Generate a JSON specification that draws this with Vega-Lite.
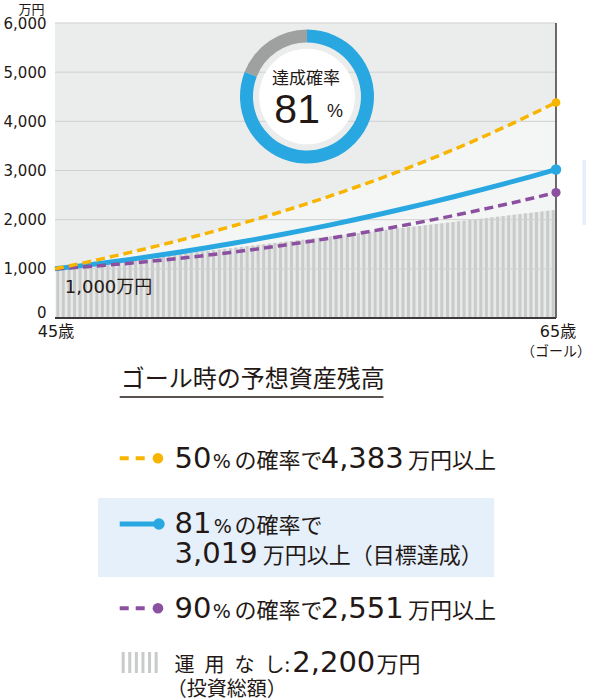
{
  "$schema": "https://vega.github.io/schema/vega-lite/v6.json",
  "width": 511,
  "height": 677,
  "autosize": {"type": "none"},
  "padding": {"left": 50, "top": 23, "right": 29, "bottom": 0},
  "background": "white",
  "config": {
    "view": {"stroke": null, "fill": null},
    "font": "DejaVu Sans, Noto Sans CJK JP",
    "axisX": {"disable": true},
    "text": {"color": "#231815", "font": "DejaVu Sans, Noto Sans CJK JP"}
  },
  "datasets": {
    "paths": [
      {"age": 45, "s": "50", "v": 1000}, {"age": 46, "s": "50", "v": 1106}, {"age": 47, "s": "50", "v": 1218}, {"age": 48, "s": "50", "v": 1334}, {"age": 49, "s": "50", "v": 1456}, {"age": 50, "s": "50", "v": 1584}, {"age": 51, "s": "50", "v": 1717}, {"age": 52, "s": "50", "v": 1857}, {"age": 53, "s": "50", "v": 2003}, {"age": 54, "s": "50", "v": 2156}, {"age": 55, "s": "50", "v": 2316}, {"age": 56, "s": "50", "v": 2484}, {"age": 57, "s": "50", "v": 2659}, {"age": 58, "s": "50", "v": 2842}, {"age": 59, "s": "50", "v": 3034}, {"age": 60, "s": "50", "v": 3235}, {"age": 61, "s": "50", "v": 3445}, {"age": 62, "s": "50", "v": 3665}, {"age": 63, "s": "50", "v": 3895}, {"age": 64, "s": "50", "v": 4136}, {"age": 65, "s": "50", "v": 4383},
      {"age": 45, "s": "81", "v": 1000}, {"age": 46, "s": "81", "v": 1060}, {"age": 47, "s": "81", "v": 1124}, {"age": 48, "s": "81", "v": 1192}, {"age": 49, "s": "81", "v": 1265}, {"age": 50, "s": "81", "v": 1342}, {"age": 51, "s": "81", "v": 1423}, {"age": 52, "s": "81", "v": 1509}, {"age": 53, "s": "81", "v": 1599}, {"age": 54, "s": "81", "v": 1694}, {"age": 55, "s": "81", "v": 1792}, {"age": 56, "s": "81", "v": 1895}, {"age": 57, "s": "81", "v": 2003}, {"age": 58, "s": "81", "v": 2115}, {"age": 59, "s": "81", "v": 2231}, {"age": 60, "s": "81", "v": 2351}, {"age": 61, "s": "81", "v": 2476}, {"age": 62, "s": "81", "v": 2606}, {"age": 63, "s": "81", "v": 2739}, {"age": 64, "s": "81", "v": 2877}, {"age": 65, "s": "81", "v": 3019},
      {"age": 45, "s": "90", "v": 1000}, {"age": 46, "s": "90", "v": 1034}, {"age": 47, "s": "90", "v": 1072}, {"age": 48, "s": "90", "v": 1115}, {"age": 49, "s": "90", "v": 1163}, {"age": 50, "s": "90", "v": 1215}, {"age": 51, "s": "90", "v": 1272}, {"age": 52, "s": "90", "v": 1333}, {"age": 53, "s": "90", "v": 1399}, {"age": 54, "s": "90", "v": 1470}, {"age": 55, "s": "90", "v": 1545}, {"age": 56, "s": "90", "v": 1625}, {"age": 57, "s": "90", "v": 1709}, {"age": 58, "s": "90", "v": 1799}, {"age": 59, "s": "90", "v": 1892}, {"age": 60, "s": "90", "v": 1990}, {"age": 61, "s": "90", "v": 2093}, {"age": 62, "s": "90", "v": 2201}, {"age": 63, "s": "90", "v": 2313}, {"age": 64, "s": "90", "v": 2430}, {"age": 65, "s": "90", "v": 2551}
    ],
    "invest": [
      {"a": 45.11, "v": 1007}, {"a": 45.33, "v": 1020}, {"a": 45.56, "v": 1033}, {"a": 45.78, "v": 1047}, {"a": 46.00, "v": 1060}, {"a": 46.22, "v": 1073}, {"a": 46.44, "v": 1087}, {"a": 46.67, "v": 1100}, {"a": 46.89, "v": 1113}, {"a": 47.11, "v": 1127},
      {"a": 47.33, "v": 1140}, {"a": 47.56, "v": 1153}, {"a": 47.78, "v": 1167}, {"a": 48.00, "v": 1180}, {"a": 48.22, "v": 1193}, {"a": 48.44, "v": 1207}, {"a": 48.67, "v": 1220}, {"a": 48.89, "v": 1233}, {"a": 49.11, "v": 1247}, {"a": 49.33, "v": 1260},
      {"a": 49.56, "v": 1273}, {"a": 49.78, "v": 1287}, {"a": 50.00, "v": 1300}, {"a": 50.22, "v": 1313}, {"a": 50.44, "v": 1327}, {"a": 50.67, "v": 1340}, {"a": 50.89, "v": 1353}, {"a": 51.11, "v": 1367}, {"a": 51.33, "v": 1380}, {"a": 51.56, "v": 1393},
      {"a": 51.78, "v": 1407}, {"a": 52.00, "v": 1420}, {"a": 52.22, "v": 1433}, {"a": 52.44, "v": 1447}, {"a": 52.67, "v": 1460}, {"a": 52.89, "v": 1473}, {"a": 53.11, "v": 1487}, {"a": 53.33, "v": 1500}, {"a": 53.56, "v": 1513}, {"a": 53.78, "v": 1527},
      {"a": 54.00, "v": 1540}, {"a": 54.22, "v": 1553}, {"a": 54.44, "v": 1567}, {"a": 54.67, "v": 1580}, {"a": 54.89, "v": 1593}, {"a": 55.11, "v": 1607}, {"a": 55.33, "v": 1620}, {"a": 55.56, "v": 1633}, {"a": 55.78, "v": 1647}, {"a": 56.00, "v": 1660},
      {"a": 56.22, "v": 1673}, {"a": 56.44, "v": 1687}, {"a": 56.67, "v": 1700}, {"a": 56.89, "v": 1713}, {"a": 57.11, "v": 1727}, {"a": 57.33, "v": 1740}, {"a": 57.56, "v": 1753}, {"a": 57.78, "v": 1767}, {"a": 58.00, "v": 1780}, {"a": 58.22, "v": 1793},
      {"a": 58.44, "v": 1807}, {"a": 58.67, "v": 1820}, {"a": 58.89, "v": 1833}, {"a": 59.11, "v": 1847}, {"a": 59.33, "v": 1860}, {"a": 59.56, "v": 1873}, {"a": 59.78, "v": 1887}, {"a": 60.00, "v": 1900}, {"a": 60.22, "v": 1913}, {"a": 60.44, "v": 1927},
      {"a": 60.67, "v": 1940}, {"a": 60.89, "v": 1953}, {"a": 61.11, "v": 1967}, {"a": 61.33, "v": 1980}, {"a": 61.56, "v": 1993}, {"a": 61.78, "v": 2007}, {"a": 62.00, "v": 2020}, {"a": 62.22, "v": 2033}, {"a": 62.44, "v": 2047}, {"a": 62.67, "v": 2060},
      {"a": 62.89, "v": 2073}, {"a": 63.11, "v": 2087}, {"a": 63.33, "v": 2100}, {"a": 63.56, "v": 2113}, {"a": 63.78, "v": 2127}, {"a": 64.00, "v": 2140}, {"a": 64.22, "v": 2153}, {"a": 64.44, "v": 2167}, {"a": 64.67, "v": 2180}, {"a": 64.89, "v": 2193}
    ],
    "grid": [{"v": 1000}, {"v": 2000}, {"v": 3000}, {"v": 4000}, {"v": 5000}, {"v": 6000}],
    "donut": [{"k": "達成", "p": 81, "o": 1}, {"k": "未達", "p": 19, "o": 2}],
    "summary": [
      {"key": "p50", "prob": 50, "amount": 4383},
      {"key": "p81", "prob": 81, "amount": 3019},
      {"key": "p90", "prob": 90, "amount": 2551},
      {"key": "none", "amount": 2200}
    ]
  },
  "layer": [
    {
      "data": {"values": [{}]},
      "mark": {"type": "rect", "color": "#ebeded"},
      "encoding": {
        "x": {"datum": 45, "type": "quantitative", "scale": {"domain": [45, 65], "nice": false, "zero": false}},
        "x2": {"datum": 65},
        "y": {"datum": 0, "type": "quantitative", "scale": {"domain": [-7769.5, 6000], "nice": false, "zero": false},
          "axis": {"values": [0, 1000, 2000, 3000, 4000, 5000, 6000], "labelExpr": "format(datum.value, ',')", "grid": false, "domain": false, "ticks": false,
            "labelPadding": 4, "labelFont": "DejaVu Sans", "labelFontSize": 15, "labelColor": "#231815",
            "labelOffset": {"condition": {"test": "datum.value === 0", "value": -5}, "value": 0},
            "title": "万円", "titleAngle": 0, "titleAlign": "right", "titleBaseline": "alphabetic", "titleX": -6, "titleY": -10,
            "titleFont": "Noto Sans CJK JP", "titleFontSize": 13, "titleFontWeight": "normal", "titleColor": "#231815"}},
        "y2": {"datum": 6000}
      }
    },
    {
      "data": {"name": "paths"},
      "transform": [{"filter": "datum.s === '50'"}],
      "mark": {"type": "area", "color": "#f4f6f6", "interpolate": "monotone"},
      "encoding": {"x": {"field": "age", "type": "quantitative"}, "y": {"field": "v", "type": "quantitative"}, "y2": {"datum": 0}}
    },
    {
      "data": {"name": "invest"},
      "mark": {"type": "area", "color": "#e8e9e9"},
      "encoding": {"x": {"field": "a", "type": "quantitative"}, "y": {"field": "v", "type": "quantitative"}, "y2": {"datum": 0}}
    },
    {
      "data": {"name": "invest"},
      "mark": {"type": "bar", "width": 3, "color": "#c9caca", "orient": "vertical"},
      "encoding": {"x": {"field": "a", "type": "quantitative"}, "y": {"field": "v", "type": "quantitative"}, "y2": {"datum": 0}}
    },
    {
      "data": {"name": "grid"},
      "mark": {"type": "rule", "color": "#cfd1d1", "strokeWidth": 1},
      "encoding": {"x": {"datum": 45}, "x2": {"datum": 65}, "y": {"field": "v", "type": "quantitative"}}
    },
    {
      "data": {"values": [{}]},
      "mark": {"type": "text", "text": "1,000万円", "align": "left", "baseline": "alphabetic", "fontSize": 18},
      "encoding": {"x": {"datum": 45.391}, "y": {"datum": 508.5}}
    },
    {
      "data": {"name": "paths"},
      "transform": [{"filter": "datum.s === '81'"}],
      "mark": {"type": "line", "color": "#29a7e0", "strokeWidth": 5, "interpolate": "monotone"},
      "encoding": {"x": {"field": "age", "type": "quantitative"}, "y": {"field": "v", "type": "quantitative"}}
    },
    {
      "data": {"name": "paths"},
      "transform": [{"filter": "datum.s === '90'"}],
      "mark": {"type": "line", "color": "#8b509f", "strokeWidth": 3.5, "strokeDash": [9, 5], "interpolate": "monotone"},
      "encoding": {"x": {"field": "age", "type": "quantitative"}, "y": {"field": "v", "type": "quantitative"}}
    },
    {
      "data": {"name": "paths"},
      "transform": [{"filter": "datum.s === '50'"}],
      "mark": {"type": "line", "color": "#f7b500", "strokeWidth": 3.5, "strokeDash": [9, 5], "interpolate": "monotone"},
      "encoding": {"x": {"field": "age", "type": "quantitative"}, "y": {"field": "v", "type": "quantitative"}}
    },
    {
      "data": {"values": [{}]},
      "mark": {"type": "rule", "color": "#3e3a39", "strokeWidth": 1.5},
      "encoding": {"x": {"datum": 65}, "y": {"datum": 0}, "y2": {"datum": 6000}}
    },
    {
      "data": {"values": [{}]},
      "mark": {"type": "rule", "color": "#3e3a39", "strokeWidth": 2},
      "encoding": {"x": {"datum": 45}, "x2": {"datum": 65}, "y": {"datum": 0}}
    },
    {
      "data": {"values": [{}]},
      "mark": {"type": "rect", "color": "#e6f0fa"},
      "encoding": {"x": {"datum": 66.057}, "x2": {"datum": 66.2}, "y": {"datum": 3213.6}, "y2": {"datum": 1891.5}}
    },
    {
      "data": {"name": "paths"},
      "transform": [{"filter": "datum.age === 65 && datum.s === '50'"}],
      "mark": {"type": "circle", "color": "#f7b500", "opacity": 1, "size": 75},
      "encoding": {"x": {"field": "age", "type": "quantitative"}, "y": {"field": "v", "type": "quantitative"}}
    },
    {
      "data": {"name": "paths"},
      "transform": [{"filter": "datum.age === 65 && datum.s === '81'"}],
      "mark": {"type": "circle", "color": "#29a7e0", "opacity": 1, "size": 110},
      "encoding": {"x": {"field": "age", "type": "quantitative"}, "y": {"field": "v", "type": "quantitative"}}
    },
    {
      "data": {"name": "paths"},
      "transform": [{"filter": "datum.age === 65 && datum.s === '90'"}],
      "mark": {"type": "circle", "color": "#8b509f", "opacity": 1, "size": 85},
      "encoding": {"x": {"field": "age", "type": "quantitative"}, "y": {"field": "v", "type": "quantitative"}}
    },
    {
      "data": {"values": [{}]},
      "mark": {"type": "circle", "color": "white", "opacity": 1, "size": 9161},
      "encoding": {"x": {"datum": 55.059}, "y": {"datum": 4505}}
    },
    {
      "data": {"name": "donut"},
      "mark": {"type": "arc", "innerRadius": 54, "outerRadius": 67},
      "encoding": {
        "theta": {"field": "p", "type": "quantitative", "stack": true},
        "order": {"field": "o", "type": "quantitative"},
        "color": {"field": "k", "type": "nominal", "scale": {"domain": ["達成", "未達"], "range": ["#29a7e0", "#9fa0a0"]}, "legend": null},
        "x": {"datum": 55.059},
        "y": {"datum": 4505}
      }
    },
    {
      "data": {"values": [{}]},
      "mark": {"type": "text", "text": "達成確率", "align": "center", "baseline": "middle", "fontSize": 17, "dx": -1, "dy": -18, "font": "Noto Sans CJK JP"},
      "encoding": {"x": {"datum": 55.059}, "y": {"datum": 4505}}
    },
    {
      "data": {"name": "donut"},
      "transform": [{"filter": "datum.o === 1"}],
      "mark": {"type": "text", "align": "right", "baseline": "alphabetic", "fontSize": 41, "dx": 13, "dy": 26.5, "font": "Liberation Sans"},
      "encoding": {"x": {"datum": 55.059}, "y": {"datum": 4505}, "text": {"field": "p", "type": "quantitative"}}
    },
    {
      "data": {"values": [{}]},
      "mark": {"type": "text", "text": "%", "align": "left", "baseline": "alphabetic", "fontSize": 18, "dx": 20, "dy": 20.5, "font": "Liberation Sans"},
      "encoding": {"x": {"datum": 55.059}, "y": {"datum": 4505}}
    },
    {
      "data": {"values": [{}]},
      "mark": {"type": "text", "text": "45歳", "align": "center", "baseline": "alphabetic", "fontSize": 16, "dx": 1, "dy": 19},
      "encoding": {"x": {"datum": 45}, "y": {"datum": 0}}
    },
    {
      "data": {"values": [{}]},
      "mark": {"type": "text", "text": "65歳", "align": "center", "baseline": "alphabetic", "fontSize": 16, "dx": 2, "dy": 19},
      "encoding": {"x": {"datum": 65}, "y": {"datum": 0}}
    },
    {
      "data": {"values": [{}]},
      "mark": {"type": "text", "text": "（ゴール）", "align": "center", "baseline": "alphabetic", "fontSize": 14, "dy": 38, "font": "Noto Sans CJK JP"},
      "encoding": {"x": {"datum": 65}, "y": {"datum": 0}}
    },
    {
      "data": {"values": [{}]},
      "mark": {"type": "text", "text": "ゴール時の予想資産残高", "align": "left", "baseline": "alphabetic", "fontSize": 24, "font": "Noto Sans CJK JP"},
      "encoding": {"x": {"datum": 47.622}, "y": {"datum": -1403.4}}
    },
    {
      "data": {"values": [{}]},
      "mark": {"type": "rule", "color": "#231815", "strokeWidth": 1.5},
      "encoding": {"x": {"datum": 47.583}, "x2": {"datum": 58.112}, "y": {"datum": -1606.8}}
    },
    {
      "data": {"values": [{}]},
      "mark": {"type": "rect", "color": "#e6f0fa"},
      "encoding": {"x": {"datum": 46.722}, "x2": {"datum": 62.534}, "y": {"datum": -3661}, "y2": {"datum": -5267.8}}
    },
    {
      "data": {"values": [{}]},
      "mark": {"type": "rule", "color": "#f7b500", "strokeWidth": 4, "strokeDash": [9, 7]},
      "encoding": {"x": {"datum": 47.583}, "x2": {"datum": 48.836}, "y": {"datum": -2853.6}}
    },
    {
      "data": {"values": [{}]},
      "mark": {"type": "circle", "color": "#f7b500", "opacity": 1, "size": 113},
      "encoding": {"x": {"datum": 49.11}, "y": {"datum": -2853.6}}
    },
    {
      "data": {"values": [{}]},
      "mark": {"type": "rule", "color": "#29a7e0", "strokeWidth": 5},
      "encoding": {"x": {"datum": 47.583}, "x2": {"datum": 49.11}, "y": {"datum": -4189.8}}
    },
    {
      "data": {"values": [{}]},
      "mark": {"type": "circle", "color": "#29a7e0", "opacity": 1, "size": 133},
      "encoding": {"x": {"datum": 49.149}, "y": {"datum": -4189.8}}
    },
    {
      "data": {"values": [{}]},
      "mark": {"type": "rule", "color": "#8b509f", "strokeWidth": 4, "strokeDash": [9, 7]},
      "encoding": {"x": {"datum": 47.583}, "x2": {"datum": 48.836}, "y": {"datum": -5904.5}}
    },
    {
      "data": {"values": [{}]},
      "mark": {"type": "circle", "color": "#8b509f", "opacity": 1, "size": 113},
      "encoding": {"x": {"datum": 49.11}, "y": {"datum": -5904.5}}
    },
    {
      "data": {"values": [{}]},
      "mark": {"type": "rule", "color": "#c9caca", "strokeWidth": 21, "strokeDash": [3, 3.6]},
      "encoding": {"x": {"datum": 47.661}, "x2": {"datum": 49.188}, "y": {"datum": -7006.8}}
    },
    {
      "data": {"name": "summary"},
      "transform": [{"filter": "datum.key === 'p50'"}],
      "mark": {"type": "text", "align": "left", "baseline": "alphabetic", "fontSize": 29},
      "encoding": {"x": {"datum": 49.775}, "y": {"datum": -3050.9}, "text": {"field": "prob", "type": "quantitative"}}
    },
    {
      "data": {"values": [{}]},
      "mark": {"type": "text", "text": "%", "align": "left", "baseline": "alphabetic", "fontSize": 19},
      "encoding": {"x": {"datum": 51.301}, "y": {"datum": -3050.9}}
    },
    {
      "data": {"values": [{}]},
      "mark": {"type": "text", "text": "の確率で", "align": "left", "baseline": "alphabetic", "fontSize": 22, "font": "Noto Sans CJK JP"},
      "encoding": {"x": {"datum": 52.162}, "y": {"datum": -3050.9}}
    },
    {
      "data": {"name": "summary"},
      "transform": [{"filter": "datum.key === 'p50'"}],
      "mark": {"type": "text", "align": "left", "baseline": "alphabetic", "fontSize": 29},
      "encoding": {"x": {"datum": 55.607}, "y": {"datum": -3050.9}, "text": {"field": "amount", "type": "quantitative", "format": ","}}
    },
    {
      "data": {"values": [{}]},
      "mark": {"type": "text", "text": "万円以上", "align": "left", "baseline": "alphabetic", "fontSize": 22, "font": "Noto Sans CJK JP"},
      "encoding": {"x": {"datum": 59.09}, "y": {"datum": -3050.9}}
    },
    {
      "data": {"name": "summary"},
      "transform": [{"filter": "datum.key === 'p81'"}],
      "mark": {"type": "text", "align": "left", "baseline": "alphabetic", "fontSize": 29},
      "encoding": {"x": {"datum": 49.775}, "y": {"datum": -4372.9}, "text": {"field": "prob", "type": "quantitative"}}
    },
    {
      "data": {"values": [{}]},
      "mark": {"type": "text", "text": "%", "align": "left", "baseline": "alphabetic", "fontSize": 19},
      "encoding": {"x": {"datum": 51.341}, "y": {"datum": -4372.9}}
    },
    {
      "data": {"values": [{}]},
      "mark": {"type": "text", "text": "の確率で", "align": "left", "baseline": "alphabetic", "fontSize": 22, "font": "Noto Sans CJK JP"},
      "encoding": {"x": {"datum": 52.162}, "y": {"datum": -4372.9}}
    },
    {
      "data": {"name": "summary"},
      "transform": [{"filter": "datum.key === 'p81'"}],
      "mark": {"type": "text", "align": "left", "baseline": "alphabetic", "fontSize": 29},
      "encoding": {"x": {"datum": 49.775}, "y": {"datum": -4972.9}, "text": {"field": "amount", "type": "quantitative", "format": ","}}
    },
    {
      "data": {"values": [{}]},
      "mark": {"type": "text", "text": "万円以上（目標達成）", "align": "left", "baseline": "alphabetic", "fontSize": 22, "font": "Noto Sans CJK JP"},
      "encoding": {"x": {"datum": 53.297}, "y": {"datum": -4972.9}}
    },
    {
      "data": {"name": "summary"},
      "transform": [{"filter": "datum.key === 'p90'"}],
      "mark": {"type": "text", "align": "left", "baseline": "alphabetic", "fontSize": 29},
      "encoding": {"x": {"datum": 49.775}, "y": {"datum": -6101.7}, "text": {"field": "prob", "type": "quantitative"}}
    },
    {
      "data": {"values": [{}]},
      "mark": {"type": "text", "text": "%", "align": "left", "baseline": "alphabetic", "fontSize": 19},
      "encoding": {"x": {"datum": 51.301}, "y": {"datum": -6101.7}}
    },
    {
      "data": {"values": [{}]},
      "mark": {"type": "text", "text": "の確率で", "align": "left", "baseline": "alphabetic", "fontSize": 22, "font": "Noto Sans CJK JP"},
      "encoding": {"x": {"datum": 52.162}, "y": {"datum": -6101.7}}
    },
    {
      "data": {"name": "summary"},
      "transform": [{"filter": "datum.key === 'p90'"}],
      "mark": {"type": "text", "align": "left", "baseline": "alphabetic", "fontSize": 29},
      "encoding": {"x": {"datum": 55.607}, "y": {"datum": -6101.7}, "text": {"field": "amount", "type": "quantitative", "format": ","}}
    },
    {
      "data": {"values": [{}]},
      "mark": {"type": "text", "text": "万円以上", "align": "left", "baseline": "alphabetic", "fontSize": 22, "font": "Noto Sans CJK JP"},
      "encoding": {"x": {"datum": 59.09}, "y": {"datum": -6101.7}}
    },
    {
      "data": {"values": [{}]},
      "mark": {"type": "text", "text": "運\u2002用\u2002な\u2002し:", "align": "left", "baseline": "alphabetic", "fontSize": 20, "font": "Noto Sans CJK JP"},
      "encoding": {"x": {"datum": 49.775}, "y": {"datum": -7200}}
    },
    {
      "data": {"name": "summary"},
      "transform": [{"filter": "datum.key === 'none'"}],
      "mark": {"type": "text", "align": "left", "baseline": "alphabetic", "fontSize": 29},
      "encoding": {"x": {"datum": 54.472}, "y": {"datum": -7200}, "text": {"field": "amount", "type": "quantitative", "format": ","}}
    },
    {
      "data": {"values": [{}]},
      "mark": {"type": "text", "text": "万円", "align": "left", "baseline": "alphabetic", "fontSize": 22, "font": "Noto Sans CJK JP"},
      "encoding": {"x": {"datum": 57.837}, "y": {"datum": -7200}}
    },
    {
      "data": {"values": [{}]},
      "mark": {"type": "text", "text": "（投資総額）", "align": "left", "baseline": "alphabetic", "fontSize": 20, "font": "Noto Sans CJK JP"},
      "encoding": {"x": {"datum": 49.462}, "y": {"datum": -7688.1}}
    }
  ]
}
